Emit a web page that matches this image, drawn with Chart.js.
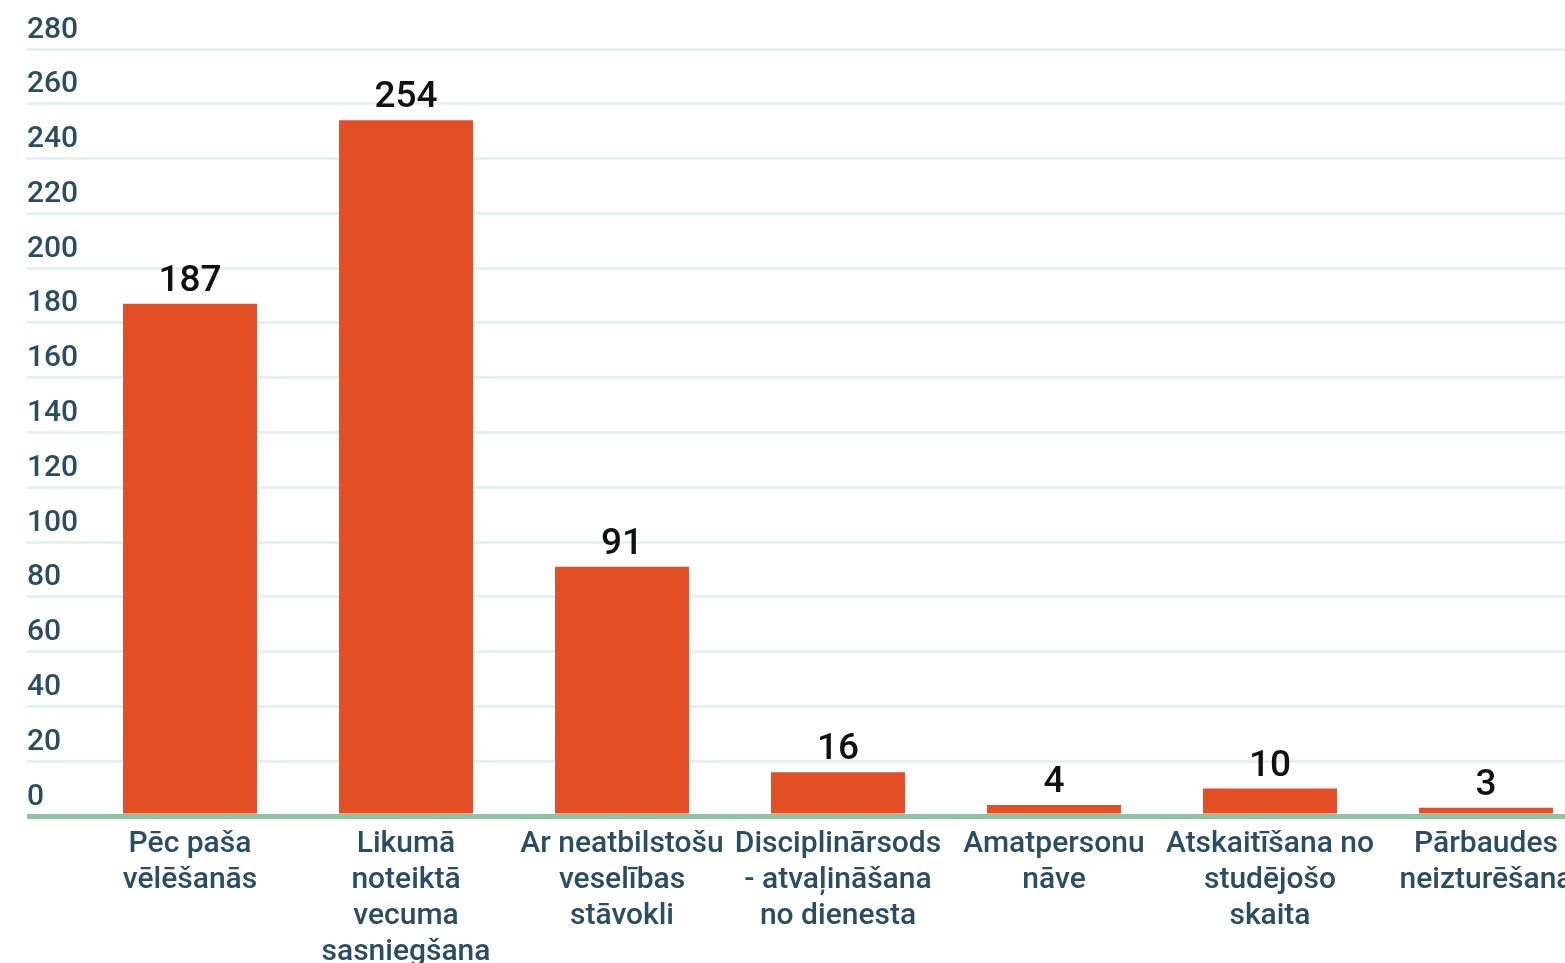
<!DOCTYPE html>
<html>
<head>
<meta charset="utf-8">
<script src="https://cdn.jsdelivr.net/npm/chart.js@4"></script>
<style>
  html, body { margin: 0; padding: 0; background: #fff; overflow: hidden; }
  #wrap { position: absolute; left: 0; top: -60px; width: 1600px; height: 1060px; }
</style>
</head>
<body>
<div id="wrap"><canvas id="reasons-chart"></canvas></div>
<script>
// categories (multi-line, as wrapped in the picture)
const categories = [
  ['Pēc paša', 'vēlēšanās'],
  ['Likumā', 'noteiktā', 'vecuma', 'sasniegšana'],
  ['Ar neatbilstošu', 'veselības', 'stāvokli'],
  ['Disciplinārsods', '- atvaļināšana', 'no dienesta'],
  ['Amatpersonu', 'nāve'],
  ['Atskaitīšana no', 'studējošo', 'skaita'],
  ['Pārbaudes', 'neizturēšana']
];
const counts = [187, 254, 91, 16, 4, 10, 3];
const yMin = 0, yMax = 280, yStep = 20;

const textColor = '#2b4d63';
const barColor = '#e44e25';

// value labels above the bars (no datalabels plugin offline)
const valueLabels = {
  id: 'valueLabels',
  afterDatasetsDraw(chart) {
    const ctx = chart.ctx;
    const meta = chart.getDatasetMeta(0);
    ctx.save();
    ctx.font = '500 37px Roboto';
    ctx.fillStyle = '#111';
    ctx.textAlign = 'center';
    ctx.textBaseline = 'alphabetic';
    meta.data.forEach((bar, i) => {
      ctx.fillText(String(counts[i]), bar.x, bar.y - 13);
    });
    ctx.restore();
  }
};

const data = {
  labels: categories,
  datasets: [{
    data: counts,
    backgroundColor: barColor,
    borderWidth: 0,
    barPercentage: 0.62,
    categoryPercentage: 1
  }]
};

const config = {
  type: 'bar',
  data: data,
  plugins: [valueLabels],
  options: {
    responsive: true,
    maintainAspectRatio: false,
    animation: false,
    layout: { padding: { left: 27, right: 6, top: 109, bottom: 24 } },
    plugins: {
      legend: { display: false },
      tooltip: { enabled: false },
      title: { display: false }
    },
    scales: {
      x: {
        grid: { display: false, drawTicks: false },
        border: { display: false },
        ticks: {
          autoSkip: false,
          maxRotation: 0,
          minRotation: 0,
          padding: 10,
          color: textColor,
          font: { family: 'Roboto', size: 30, weight: '500', lineHeight: 1.2 }
        },
        afterFit: (scale) => { scale.height = 160; }
      },
      y: {
        min: yMin,
        max: yMax,
        border: { display: false },
        grid: {
          color: (c) => c.tick && c.tick.value === 0 ? '#8ec3a3' : '#e6f2ed',
          lineWidth: (c) => c.tick && c.tick.value === 0 ? 5 : 3,
          drawTicks: true,
          tickLength: 55
        },
        ticks: {
          stepSize: yStep,
          crossAlign: 'far',
          labelOffset: -19,
          padding: 0,
          color: textColor,
          font: { family: 'Roboto', size: 30, weight: '500' }
        },
        afterFit: (scale) => { scale.width = 55; }
      }
    }
  }
};

const reasonsChart = new Chart(document.getElementById('reasons-chart'), config);
</script>
</body>
</html>
